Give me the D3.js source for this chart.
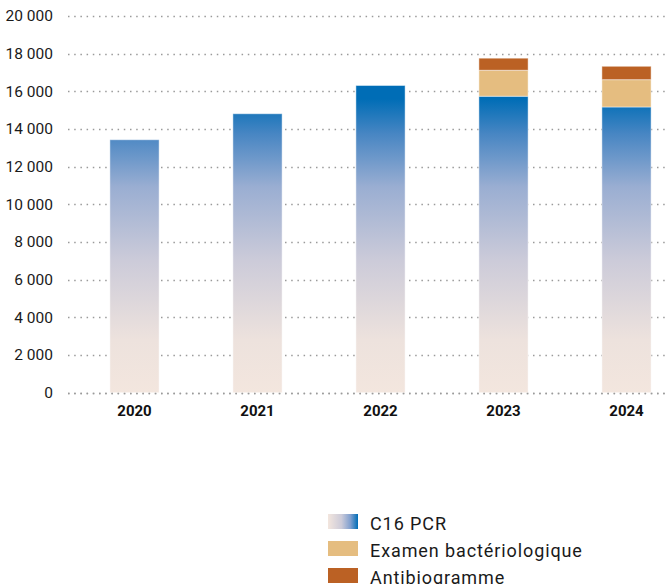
<!DOCTYPE html>
<html>
<head>
<meta charset="utf-8">
<script src="https://cdn.jsdelivr.net/npm/d3@7"></script>
<style>
  body { margin: 0; background: #fff; }
  svg { display: block; font-family: Roboto, "Noto Sans", sans-serif; }
</style>
</head>
<body>
<div id="chart"></div>
<script>
const years = ["2020", "2021", "2022", "2023", "2024"];
const pcr = [13430, 14810, 16310, 15740, 15170];
const bacterio = [0, 0, 0, 1380, 1450];
const antibio = [0, 0, 0, 640, 710];
const yTicks = [0, 2000, 4000, 6000, 8000, 10000, 12000, 14000, 16000, 18000, 20000];
const seriesNames = ["C16 PCR", "Examen bactériologique", "Antibiogramme"];
const seriesKeys = ["pcr", "bacterio", "antibio"];

const width = 668;
const height = 584;

const rows = years.map((y, i) => ({year: y, pcr: pcr[i], bacterio: bacterio[i], antibio: antibio[i]}));

const svg = d3.select("#chart").append("svg")
    .attr("width", width)
    .attr("height", height)
    .attr("viewBox", [0, 0, width, height]);

const x = d3.scaleBand()
    .domain(years)
    .range([73, 688])
    .paddingInner(0.6)
    .paddingOuter(0.3);

const y = d3.scaleLinear()
    .domain([0, 20000])
    .range([392.7, 16]);

// gradient for the PCR bars, in user space so short bars are paler at the top
const defs = svg.append("defs");
const grad = defs.append("linearGradient")
    .attr("id", "pcrGrad")
    .attr("gradientUnits", "userSpaceOnUse")
    .attr("x1", 0).attr("x2", 0)
    .attr("y1", y(0)).attr("y2", y(15600));
[[0, "#f3e6de"], [0.18, "#ede2dd"], [0.45, "#cccbd9"], [0.7, "#9aaed2"], [0.88, "#4886c3"], [1, "#006db6"]]
  .forEach(([o, c]) => grad.append("stop").attr("offset", o).attr("stop-color", c));

const legendGrad = defs.append("linearGradient")
    .attr("id", "legendGrad")
    .attr("x1", 0).attr("x2", 1).attr("y1", 0).attr("y2", 0);
[[0, "#f3e6de"], [0.45, "#cccbd9"], [0.75, "#7f9fcf"], [1, "#006db6"]]
  .forEach(([o, c]) => legendGrad.append("stop").attr("offset", o).attr("stop-color", c));

const color = d3.scaleOrdinal()
    .domain(seriesKeys)
    .range(["url(#pcrGrad)", "#e5bd80", "#bb6124"]);

// grid
svg.append("g")
  .selectAll("line")
  .data(yTicks)
  .join("line")
    .attr("x1", 68)
    .attr("x2", width)
    .attr("y1", d => Math.round(y(d)) + 0.5)
    .attr("y2", d => Math.round(y(d)) + 0.5)
    .attr("stroke", "#9a9a9a")
    .attr("stroke-width", 1.3)
    .attr("stroke-dasharray", "1.5,4.7");

// y labels
const yAxis = d3.axisLeft(y)
    .tickValues(yTicks)
    .tickSize(0)
    .tickPadding(0)
    .tickFormat(d => d3.format(",")(d).replace(/,/g, " "));

svg.append("g")
    .attr("transform", "translate(53,0)")
    .call(yAxis)
    .call(g => g.select(".domain").remove())
    .call(g => g.selectAll("text")
        .attr("font-size", 15.5)
        .attr("font-family", "Roboto, sans-serif")
        .attr("fill", "#1a1a1a"));

// bars
const stack = d3.stack().keys(seriesKeys)(rows);

svg.append("g")
  .selectAll("g")
  .data(stack)
  .join("g")
    .attr("fill", d => color(d.key))
  .selectAll("rect")
  .data(d => d.filter(s => s[1] > s[0]))
  .join("rect")
    .attr("x", d => x(d.data.year))
    .attr("width", x.bandwidth())
    .attr("y", d => y(d[1]))
    .attr("height", d => y(d[0]) - y(d[1]))
    .attr("stroke", "rgba(255,255,255,0.45)")
    .attr("stroke-width", 1);

// baseline dots over the bar bottoms
svg.append("line")
    .attr("x1", 68)
    .attr("x2", width)
    .attr("y1", Math.round(y(0)) + 0.5)
    .attr("y2", Math.round(y(0)) + 0.5)
    .attr("stroke", "#9a9a9a")
    .attr("stroke-width", 1.3)
    .attr("stroke-dasharray", "1.5,4.7");

// x labels
const xAxis = d3.axisBottom(x).tickSize(0).tickPadding(0);
svg.append("g")
    .attr("transform", `translate(0,${y(0) + 13})`)
    .call(xAxis)
    .call(g => g.select(".domain").remove())
    .call(g => g.selectAll("text")
        .attr("font-size", 15)
        .attr("font-weight", "bold")
        .attr("font-family", "Roboto, sans-serif")
        .attr("fill", "#111"));

// legend
const legend = svg.append("g")
    .attr("transform", "translate(328,514)");

const item = legend.selectAll("g")
  .data(seriesKeys)
  .join("g")
    .attr("transform", (d, i) => `translate(0,${i * 27})`);

item.append("rect")
    .attr("width", 30)
    .attr("height", 15)
    .attr("fill", d => d === "pcr" ? "url(#legendGrad)" : color(d));

item.append("text")
    .attr("x", 42)
    .attr("y", 15.5)
    .attr("font-size", 18)
    .attr("letter-spacing", 0.9)
    .attr("fill", "#1a1a1a")
    .text((d, i) => seriesNames[i]);
</script>
</body>
</html>
